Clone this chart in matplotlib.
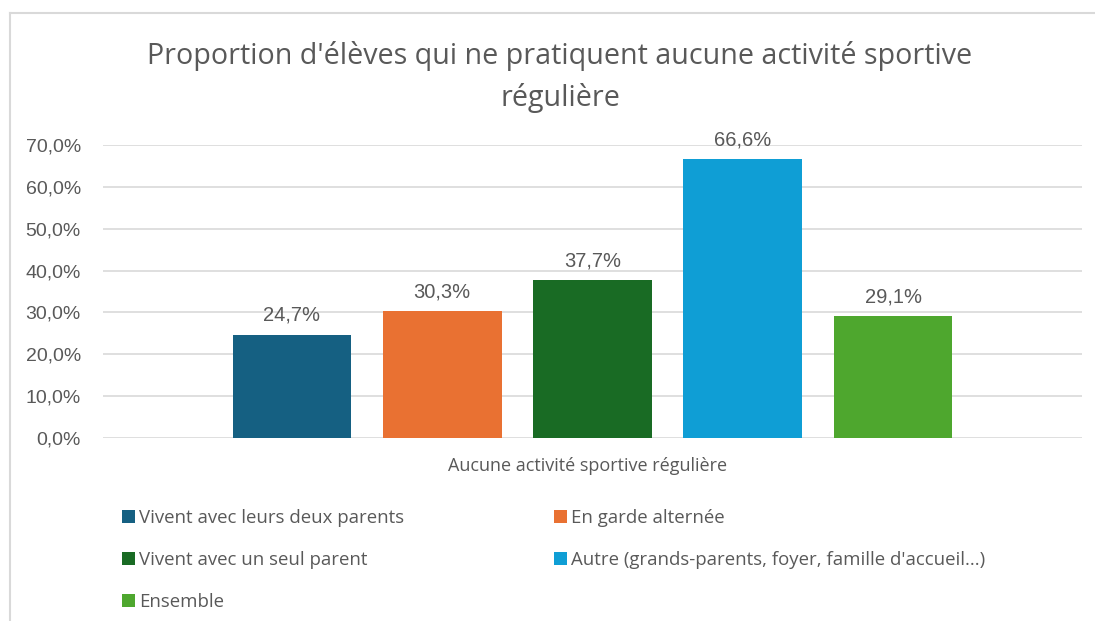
import matplotlib
matplotlib.use("Agg")
import matplotlib.pyplot as plt
from matplotlib.lines import Line2D
from matplotlib.patches import Patch

# valeurs en % (une seule catégorie, une barre par série)
series = [
    "Vivent avec leurs deux parents",
    "En garde alternée",
    "Vivent avec un seul parent",
    "Autre (grands-parents, foyer, famille d'accueil...)",
    "Ensemble",
]
values = [24.7, 30.3, 37.7, 66.6, 29.1]
colors = ["#156082", "#E97132", "#196B24", "#0F9ED5", "#4EA72E"]
yticks = [0, 10, 20, 30, 40, 50, 60, 70]
category = "Aucune activité sportive régulière"
title = "Proportion d'élèves qui ne pratiquent aucune activité sportive\nrégulière"

TXT = "#595959"
UI_FONT = ["Open Sans", "DejaVu Sans"]
NUM_FONT = ["Liberation Sans", "DejaVu Sans"]

fig = plt.figure(figsize=(10.95, 6.21), dpi=100)
fig.patch.set_facecolor("white")

# cadre du graphique (coupé à droite et en bas)
fig.add_artist(Line2D([10 / 1095, 1.0], [1 - 13 / 621] * 2, color="#D9D9D9", lw=1.5))
fig.add_artist(Line2D([10 / 1095] * 2, [0, 1 - 13 / 621], color="#D9D9D9", lw=1.5))

ax = fig.add_axes([103 / 1095, 1 - 438 / 621, 979 / 1095, 293 / 621])
x = list(range(len(values)))
bars = ax.bar(x, values, width=0.79, color=colors, zorder=2)

ax.set_xlim(-1.257, 5.257)
ax.set_ylim(0, 70)
ax.set_yticks(yticks)
ax.set_yticklabels([f"{v:.1f}%".replace(".", ",") for v in yticks],
                   family=NUM_FONT, fontsize=14, color=TXT)
ax.tick_params(axis="y", length=0, pad=16)
ax.set_xticks([])
ax.grid(axis="y", color="#D9D9D9", lw=1.2, zorder=0)
for s in ax.spines.values():
    s.set_visible(False)

for b, v in zip(bars, values):
    ax.annotate(f"{v:.1f}%".replace(".", ","), (b.get_x() + b.get_width() / 2, v),
                xytext=(0, 7), textcoords="offset points", ha="center", va="bottom",
                family=NUM_FONT, fontsize=14.5, color=TXT)

fig.text(588 / 1095, 1 - 466 / 621, category, ha="center", va="center",
         family=UI_FONT, fontsize=13, color=TXT)

fig.text(560 / 1095, 1 - 77 / 621, title, ha="center", va="center",
         family=UI_FONT, fontsize=20.6, color=TXT, linespacing=1.55)

# légende sur deux colonnes, lue ligne par ligne
order = [0, 2, 4, 1, 3]
handles = [Patch(facecolor=colors[i], edgecolor="none") for i in order]
labels = [series[i] for i in order]
leg = fig.legend(handles, labels, ncol=2, loc="upper left",
                 bbox_to_anchor=(115 / 1095, 1 - 502 / 621), frameon=False,
                 prop={"family": UI_FONT, "size": 13.4}, labelcolor=TXT,
                 handlelength=0.7, handleheight=0.7, handletextpad=0.2,
                 labelspacing=1.28, columnspacing=8.05, borderaxespad=0)

fig.savefig("out.png", dpi=100, facecolor="white")
